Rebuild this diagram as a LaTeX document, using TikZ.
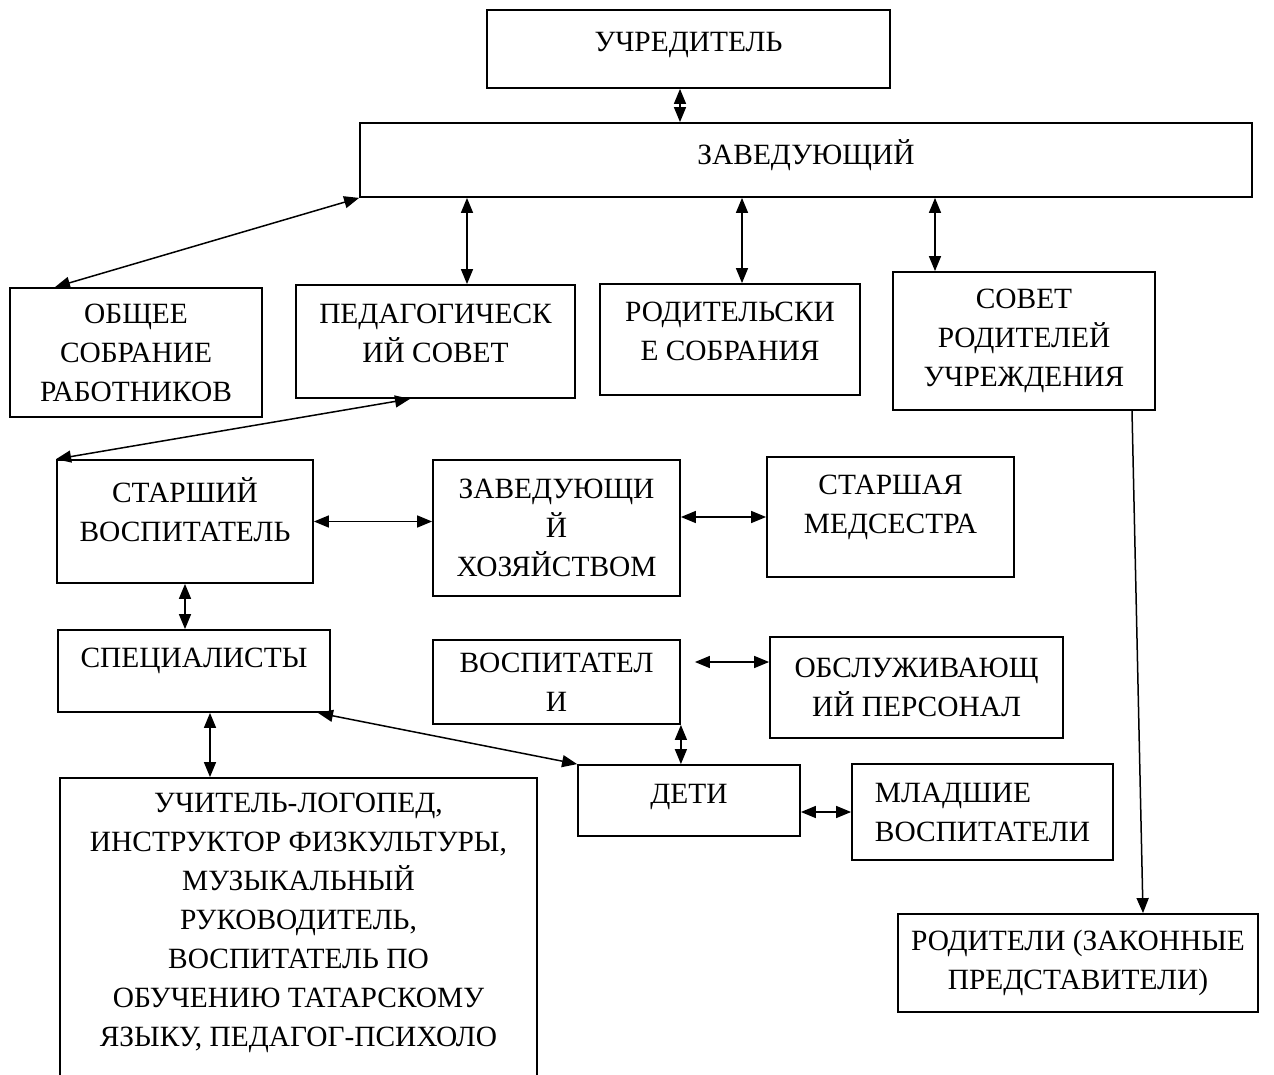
\documentclass[tikz,border=0pt]{standalone}
\usepackage{fontspec}
\setmainfont{Liberation Serif}
\usetikzlibrary{arrows.meta}
\tikzset{
  org/.style={draw, line width=0.9pt, align=center, inner sep=2pt, font=\fontsize{14.7}{19.5}\selectfont},
  lift/.style={text depth=#1},
  link/.style={{Triangle[length=7.5pt,width=6pt]}-{Triangle[length=7.5pt,width=6pt]}, line width=0.75pt},
  onelink/.style={-{Triangle[length=7.5pt,width=6pt]}, line width=0.75pt}
}
\begin{document}
\begin{tikzpicture}[x=0.5pt,y=-0.5pt]
\useasboundingbox (0,0) rectangle (1274,1075);
\clip (0,0) rectangle (1274,1075);
\node[org, minimum width=201.5pt, minimum height=39pt, lift=7pt] (uchr) at (688.5,49) {УЧРЕДИТЕЛЬ};
\node[org, minimum width=446pt, minimum height=37pt, lift=8pt] (zav) at (806,160) {ЗАВЕДУЮЩИЙ};
\node[org, minimum width=126pt, minimum height=64.5pt] (obsh) at (136,352.5) {ОБЩЕЕ\\СОБРАНИЕ\\РАБОТНИКОВ};
\node[org, minimum width=139.5pt, minimum height=56.5pt, lift=8pt] (ped) at (435.5,341.5) {ПЕДАГОГИЧЕСК\\ИЙ СОВЕТ};
\node[org, minimum width=130pt, minimum height=55.5pt, lift=8pt] (rod) at (730,339.5) {РОДИТЕЛЬСКИ\\Е СОБРАНИЯ};
\node[org, minimum width=131pt, minimum height=69pt] (sovet) at (1024,341) {СОВЕТ\\РОДИТЕЛЕЙ\\УЧРЕЖДЕНИЯ};
\node[org, minimum width=128pt, minimum height=61.5pt, lift=12pt] (starsh) at (185,521.5) {СТАРШИЙ\\ВОСПИТАТЕЛЬ};
\node[org, minimum width=123.5pt, minimum height=68pt] (zavhoz) at (556.5,528) {ЗАВЕДУЮЩИ\\Й\\ХОЗЯЙСТВОМ};
\node[org, minimum width=123.5pt, minimum height=60pt, lift=13pt] (medsestra) at (890.5,517) {СТАРШАЯ\\МЕДСЕСТРА};
\node[org, minimum width=136pt, minimum height=41pt, lift=13pt] (spec) at (194,671) {СПЕЦИАЛИСТЫ};
\node[org, minimum width=123.5pt, minimum height=42pt] (vosp) at (556.5,682) {ВОСПИТАТЕЛ\\И};
\node[org, minimum width=146.5pt, minimum height=50.5pt] (obsl) at (916.5,687.5) {ОБСЛУЖИВАЮЩ\\ИЙ ПЕРСОНАЛ};
\node[org, minimum width=111pt, minimum height=35.5pt, lift=7pt] (deti) at (689,800.5) {ДЕТИ};
\node[org, minimum width=130.5pt, minimum height=48pt, align=left] (mlad) at (982.5,812) {МЛАДШИЕ\\ВОСПИТАТЕЛИ};
\node[org, minimum width=238.5pt, minimum height=156pt, lift=14pt] (uchit) at (298.5,934) {УЧИТЕЛЬ-ЛОГОПЕД,\\ИНСТРУКТОР ФИЗКУЛЬТУРЫ,\\МУЗЫКАЛЬНЫЙ\\РУКОВОДИТЕЛЬ,\\ВОСПИТАТЕЛЬ ПО\\ОБУЧЕНИЮ ТАТАРСКОМУ\\ЯЗЫКУ, ПЕДАГОГ-ПСИХОЛО};
\node[org, minimum width=180pt, minimum height=49pt] (roditeli) at (1078,963) {РОДИТЕЛИ (ЗАКОННЫЕ\\ПРЕДСТАВИТЕЛИ)};
\draw[link] (uchr.south -| 680,0) -- (zav.north -| 680,0);
\draw[link] (zav.south west) -- (obsh.north -| 55,0);
\draw[link] (zav.south -| 467,0) -- (ped.north -| 467,0);
\draw[link] (zav.south -| 742,0) -- (rod.north -| 742,0);
\draw[link] (zav.south -| 935,0) -- (sovet.north -| 935,0);
\draw[link] (ped.south -| 410,0) -- (starsh.north west);
\draw[link] (starsh.east) -- (zavhoz.west |- starsh.east);
\draw[link] (zavhoz.east |- medsestra.west) -- (medsestra.west);
\draw[link] (starsh.south) -- (spec.north -| starsh.south);
\draw[link] (spec.south -| 210,0) -- (uchit.north -| 210,0);
\draw[link] (spec.south -| 318,0) -- (deti.north west);
\draw[link, shorten <=7pt] (vosp.east |- 0,662) -- (obsl.west |- 0,662);
\draw[link] (vosp.south east) -- (deti.north -| vosp.south east);
\draw[link] (deti.east |- mlad.west) -- (mlad.west);
\draw[onelink] (sovet.south -| 1132,0) -- (roditeli.north -| 1143,0);
\end{tikzpicture}
\end{document}
